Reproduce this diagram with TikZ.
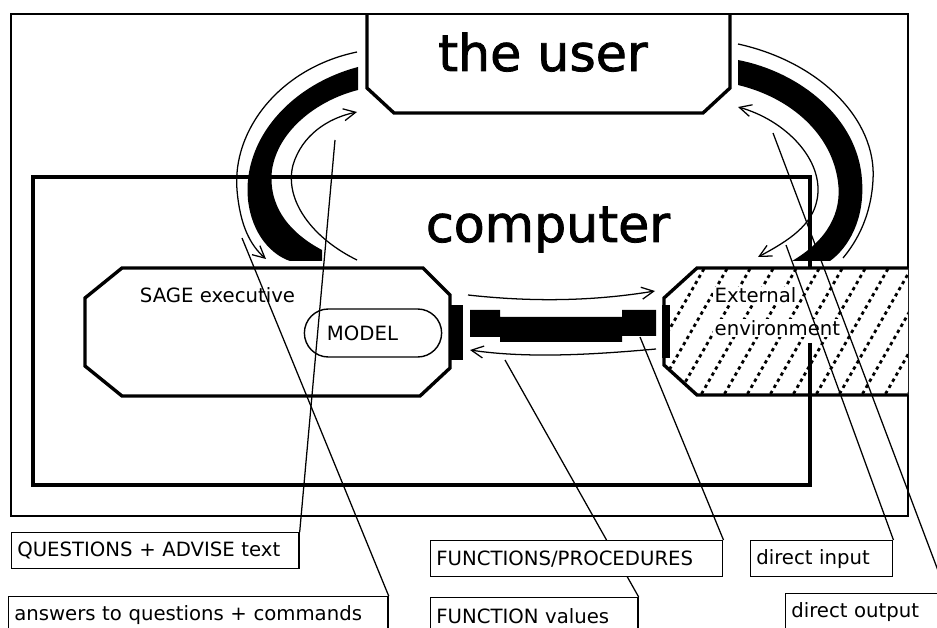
\documentclass[tikz,border=0pt]{standalone}
\usepackage{fontspec}
\setmainfont{DejaVu Sans}
\newfontfamily\titolo[FakeBold=1.6]{DejaVu Sans}
\usetikzlibrary{arrows.meta}

\newcommand{\grande}{\titolo\fontsize{36}{40}\selectfont}
\newcommand{\piccolo}{\fontsize{14}{17}\selectfont}

\begin{document}
\begin{tikzpicture}[x=0.025cm, y=-0.025cm,
        spessa/.style={line width=2.4pt},
        sottile/.style={line width=0.9pt},
        punta/.style={-{Straight Barb[length=3mm, width=3mm]}},
        etichetta/.style={draw, line width=1pt, fill=white, anchor=north west,
            font=\piccolo, align=left, text width=#1, inner xsep=0.14cm,
            inner ysep=0pt, minimum height=0.9cm}]

    \useasboundingbox (0,0) rectangle (937,628);

    % Cornice e box del computer
    \draw[sottile] (11,14) rectangle (908,516);
    \draw[spessa] (33,177) rectangle (810,485);

    % Box dell'utente
    \draw[spessa] (367,14) -- (367,88) -- (394,113) -- (703,113) -- (730,88) -- (730,14);
    \node[font=\grande, anchor=base] (utente) at (543,71) {the user};
    \node[font=\grande, anchor=base] (computer) at (548,242) {computer};

    % SAGE executive + MODEL
    \draw[spessa] (122,268) -- (423,268) -- (450,295) -- (450,368) -- (420,396)
        -- (122,396) -- (85,366) -- (85,298) -- cycle;
    \fill (451,305) rectangle (463,360);
    \node[font=\piccolo, anchor=base west] (sage) at (135,303) {SAGE executive};
    \node[draw, line width=1pt, rounded corners=0.6cm, minimum width=3.43cm,
        minimum height=1.2cm, text width=2.3cm, align=left, font=\piccolo] (modello) at (373,333) {MODEL};

    % Collegamento SAGE <-> ambiente
    \fill (470,310) -- (500,310) -- (500,317) -- (622,317) -- (622,310) -- (656,310)
        -- (656,336) -- (622,336) -- (622,342) -- (500,342) -- (500,337) -- (470,337) -- cycle;
    \draw[sottile, punta] (468,295) .. controls (540,303) and (600,300) .. (655,291);
    \draw[sottile, punta] (656,349) .. controls (600,354) and (530,359) .. (470,350);

    % Ambiente esterno (tratteggiato)
    \begin{scope}
        \clip (697,268) -- (908,268) -- (908,395) -- (697,395) -- (664,365) -- (664,298) -- cycle;
        \fill[white] (650,260) rectangle (910,400);
        \foreach \x in {560,583,...,920}
            \draw[line width=2pt, dash pattern=on 2.4pt off 2.6pt] (\x,400) -- (\x+80,260);
    \end{scope}
    \draw[spessa] (908,268) -- (697,268) -- (664,298) -- (664,365) -- (697,395) -- (908,395);
    \fill (662,305) rectangle (670,358);
    \draw[spessa] (810,343) -- (810,395);
    \node[font=\piccolo, fill=white, inner sep=1pt, anchor=base west] (esterno) at (713,303) {External};
    \node[font=\piccolo, fill=white, inner sep=1pt, anchor=base west] (ambiente) at (713,335) {environment};

    % Frecce grandi a sinistra
    \fill (358,67) .. controls (290,85) and (242,140) .. (248,200)
        .. controls (252,235) and (272,255) .. (290,261) -- (322,261) -- (322,250)
        .. controls (288,232) and (268,205) .. (272,170)
        .. controls (278,130) and (318,100) .. (358,90) -- cycle;
    \draw[sottile, punta] (357,52) .. controls (280,68) and (232,130) .. (237,190)
        .. controls (240,225) and (250,245) .. (266,259);
    \draw[sottile, punta] (357,260) .. controls (312,238) and (284,200) .. (293,165)
        .. controls (302,135) and (328,118) .. (357,112);

    % Frecce grandi a destra
    \fill (738,60) .. controls (800,72) and (858,118) .. (862,180)
        .. controls (865,220) and (848,248) .. (830,261) -- (792,261)
        .. controls (828,240) and (842,212) .. (838,182)
        .. controls (832,135) and (792,98) .. (738,85) -- cycle;
    \draw[sottile] (738,44) .. controls (820,62) and (877,120) .. (873,180)
        .. controls (871,215) and (858,240) .. (843,258);
    \draw[sottile, {Straight Barb[length=3mm, width=3mm]}-{Straight Barb[length=3mm, width=3mm]}]
        (738,107) .. controls (785,120) and (825,160) .. (817,200)
        .. controls (812,225) and (790,240) .. (758,257);

    % Punti indicati dalle etichette
    \coordinate (pDomande) at (335,140);
    \coordinate (pRisposte) at (242,238);
    \coordinate (pProcedure) at (640,337);
    \coordinate (pValori) at (505,360);
    \coordinate (pIngresso) at (786,245);
    \coordinate (pUscita) at (773,133);

    % Etichette
    \node[etichetta=6.9cm] (domande) at (11,532) {QUESTIONS + ADVISE text};
    \node[etichetta=9.2cm] (risposte) at (8,596) {answers to questions + commands};
    \node[etichetta=4.9cm] (valori) at (430,597) {FUNCTION values};
    \node[etichetta=3.27cm] (ingresso) at (750,540) {direct input};
    \node[etichetta=3.72cm] (uscita) at (785,593) {direct output};

    \draw[sottile] (domande.north east) -- (pDomande);
    \draw[sottile] (risposte.north east) -- (pRisposte);
    \draw[sottile] (valori.north east) -- (pValori);
    \draw[sottile] (ingresso.north east) -- (pIngresso);
    \draw[sottile] (uscita.north east) -- (pUscita);

    \node[etichetta=7.02cm] (procedure) at (430,540) {FUNCTIONS/PROCEDURES};
    \draw[sottile] (procedure.north east) -- (pProcedure);

\end{tikzpicture}
\end{document}
